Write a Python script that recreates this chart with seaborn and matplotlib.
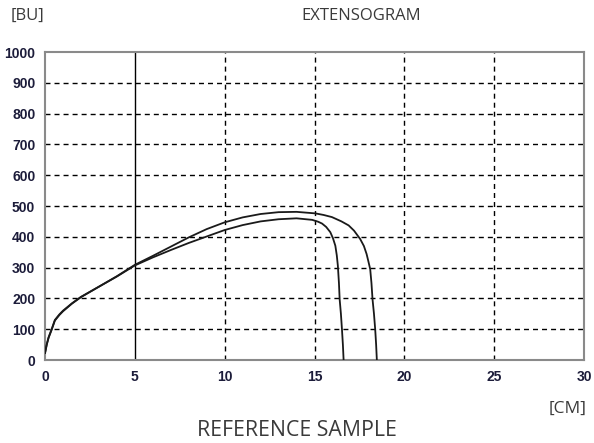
import numpy as np
import pandas as pd
import matplotlib
matplotlib.use("Agg")
import matplotlib.pyplot as plt
import seaborn as sns

# Extensogram curves: extension [cm] vs. resistance [BU]
ext_long = [0.0, 0.1, 0.2, 0.37, 0.55, 0.8, 1.0, 1.5, 2.0, 3.0, 4.0, 5.0, 6.0, 7.0,
            8.0, 9.0, 10.0, 11.0, 12.0, 13.0, 14.0, 15.05, 15.5, 15.97, 16.5,
            16.9, 17.2, 17.54, 17.75, 17.9, 18.0, 18.1, 18.17, 18.23, 18.31,
            18.38, 18.43, 18.47]
res_long = [22, 50, 72, 98, 128, 146, 158, 183, 204, 238, 272, 309, 338, 368,
            398, 425, 447, 463, 474, 480, 481, 476, 471, 464, 450,
            437, 420, 393, 370, 344, 320, 295, 250, 197, 150,
            98, 50, 0]

ext_short = [0.0, 0.1, 0.2, 0.37, 0.55, 0.8, 1.0, 1.5, 2.0, 3.0, 4.0, 5.0, 6.0, 7.0,
             8.0, 9.0, 10.0, 11.0, 12.0, 13.0, 14.0, 14.87, 15.2, 15.42, 15.65,
             15.88, 16.03, 16.16, 16.24, 16.3, 16.36, 16.4, 16.47, 16.53, 16.58,
             16.62]
res_short = [22, 52, 74, 100, 130, 148, 160, 184, 205, 238, 271, 307, 333, 357,
             380, 401, 422, 438, 450, 457, 460, 455, 449, 443, 432,
             415, 395, 371, 340, 306, 250, 197, 150, 98, 50,
             0]

x_ticks = [0, 5, 10, 15, 20, 25, 30]
y_ticks = [0, 100, 200, 300, 400, 500, 600, 700, 800, 900, 1000]

df = pd.concat([
    pd.DataFrame({"ext": ext_long, "res": res_long, "run": "A"}),
    pd.DataFrame({"ext": ext_short, "res": res_short, "run": "B"}),
])

sns.set_theme(style="white")
fig = plt.figure(figsize=(5.94, 4.43), dpi=100)
ax = fig.add_axes([45 / 594, 1 - 360 / 443, 539 / 594, 308 / 443])

# dashed grid; the 5 cm line is drawn solid
dash = (0, (3.6, 2.9))
for xv in x_ticks[1:-1]:
    ax.axvline(xv, color="black", lw=1.0, ls="-" if xv == 5 else dash, zorder=1)
for yv in y_ticks[1:-1]:
    ax.axhline(yv, color="black", lw=1.0, ls=dash, zorder=1)

sns.lineplot(data=df, x="ext", y="res", units="run", estimator=None, sort=False,
             color="#1a1a1a", lw=1.3, ax=ax, legend=False, zorder=3)

ax.set_xlim(0, 30)
ax.set_ylim(0, 1000)
ax.set_xticks(x_ticks)
ax.set_yticks(y_ticks)
ax.set_xlabel("")
ax.set_ylabel("")
ax.tick_params(axis="both", direction="out", length=4, width=1, color="black",
               labelsize=10, labelcolor="#1c1c3a", pad=3)
for lab in ax.get_xticklabels() + ax.get_yticklabels():
    lab.set_family(["Liberation Sans Narrow", "Liberation Sans", "DejaVu Sans"])
    lab.set_fontweight("bold")
for sp in ax.spines.values():
    sp.set_color("#8a8a8a")
    sp.set_linewidth(1.5)

font = ["Open Sans", "DejaVu Sans"]
fig.text(11 / 594, 1 - 16 / 443, "[BU]", family=font, fontsize=12,
         color="#3a3a3a", ha="left", va="center")
fig.text(361 / 594, 1 - 16 / 443, "EXTENSOGRAM", family=font, fontsize=12,
         color="#3a3a3a", ha="center", va="center")
fig.text(587 / 594, 1 - 409 / 443, "[CM]", family=font, fontsize=12.5,
         color="#3a3a3a", ha="right", va="center")
fig.text(297 / 594, 1 - 430 / 443, "REFERENCE SAMPLE", family=font, fontsize=15.3,
         color="#3a3a3a", ha="center", va="center")

fig.savefig("out.png", dpi=100)
